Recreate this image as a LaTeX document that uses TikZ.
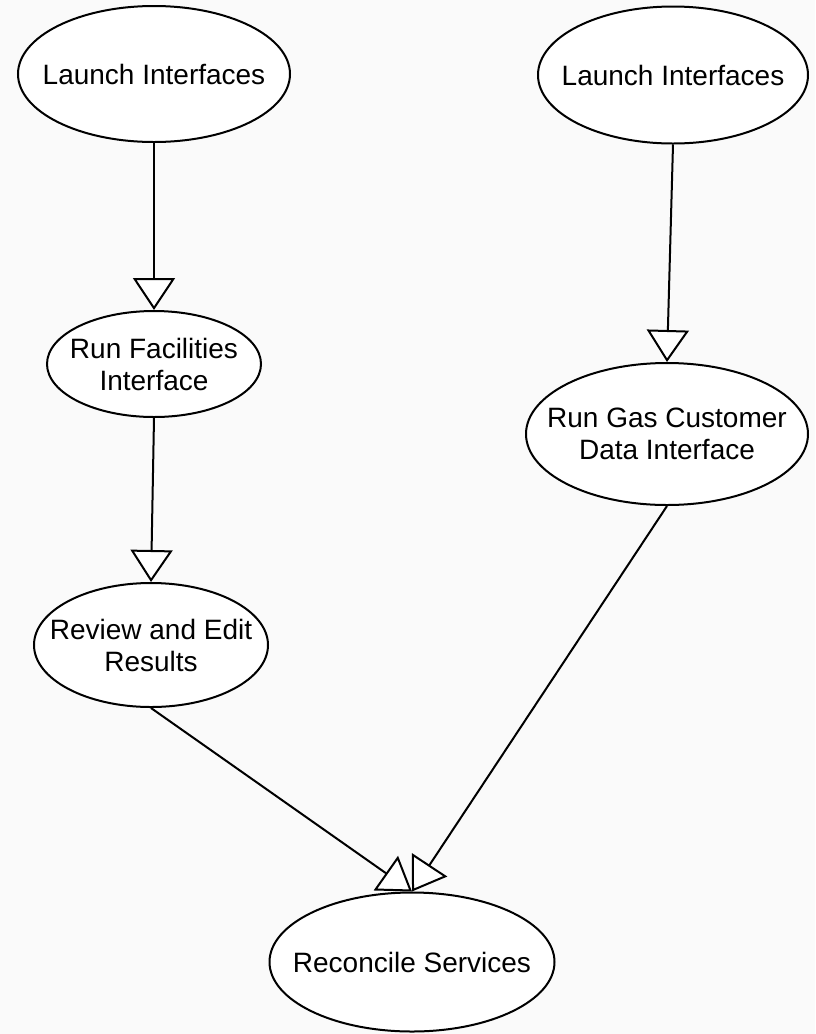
\documentclass[tikz,border=0pt]{standalone}
\usepackage{fontspec}
\setmainfont{Liberation Sans}
\usetikzlibrary{shapes.geometric,arrows.meta}
\definecolor{bgcol}{RGB}{250,250,250}
\tikzset{
  proc/.style 2 args={ellipse, draw=black, line width=1pt, fill=white, inner sep=0pt,
    minimum width=#1, minimum height=#2},
  proctext/.style={align=center, font=\fontsize{14}{16}\selectfont, inner sep=0pt},
  flow/.style={draw=black, line width=1pt,
    -{Triangle[length=16pt, width=21pt, fill=white, line join=miter]}}
}
\begin{document}
\begin{tikzpicture}[x=0.5pt, y=-0.5pt]
  \fill[bgcol] (0,0) rectangle (815,1034);
  \useasboundingbox (0,0) rectangle (815,1034);

  \node[proc={136pt}{68pt}, label={[proctext]center:Launch Interfaces}] (l1) at (154,74) {};
  \node[proc={135pt}{68.5pt}, label={[proctext]center:Launch Interfaces}] (l2) at (673,75) {};
  \node[proc={107pt}{53pt}, label={[proctext]center:Run Facilities\\Interface}] (fac) at (154,364) {};
  \node[proc={141pt}{71pt}, label={[proctext]center:Run Gas Customer\\Data Interface}] (gas) at (667,434) {};
  \node[proc={117pt}{62pt}, label={[proctext]center:Review and Edit\\Results}] (rev) at (151,645) {};
  \node[proc={142.5pt}{69.5pt}, label={[proctext]center:Reconcile Services}] (rec) at (412,962) {};

  \draw[flow] (l1.south) -- (fac.north);
  \draw[flow] (l2.south) -- (gas.north);
  \draw[flow] (fac.south) -- (rev.north);
  \draw[flow] (rev.south) -- (rec.north);
  \draw[flow] (gas.south) -- (rec.north);
\end{tikzpicture}
\end{document}
